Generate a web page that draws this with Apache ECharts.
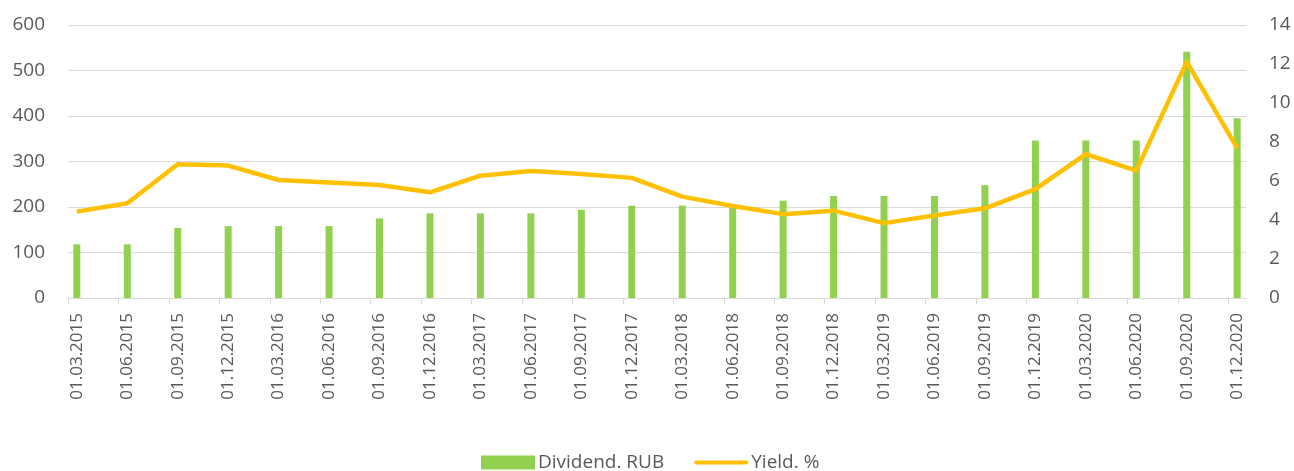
<!DOCTYPE html>
<html>
<head>
<meta charset="utf-8">
<script src="https://cdn.jsdelivr.net/npm/echarts@6/dist/echarts.min.js"></script>
<style>
html,body{margin:0;padding:0;background:#fff;}
#c{width:1294px;height:471px;}
</style>
</head>
<body>
<div id="c"></div>
<script>
const categories = ["01.03.2015","01.06.2015","01.09.2015","01.12.2015","01.03.2016","01.06.2016","01.09.2016","01.12.2016","01.03.2017","01.06.2017","01.09.2017","01.12.2017","01.03.2018","01.06.2018","01.09.2018","01.12.2018","01.03.2019","01.06.2019","01.09.2019","01.12.2019","01.03.2020","01.06.2020","01.09.2020","01.12.2020"];
const dividend = [118,118,154,158,158,158,175,186,186,186,194,203,203,199,214,224,224,224,248,346,346,346,541,395];
const yieldPct = [4.43,4.86,6.86,6.79,6.05,5.92,5.80,5.42,6.27,6.51,6.36,6.16,5.20,4.72,4.30,4.48,3.84,4.23,4.60,5.58,7.38,6.53,12.11,7.68];
const leftTicks = [0,100,200,300,400,500,600];
const rightTicks = [0,2,4,6,8,10,12,14];

const off = 0.175;
const labelPos = categories.map((_, i) => i);
const tickPos = categories.map((_, i) => i - off);
const font = '"Open Sans", "Noto Sans", sans-serif';
const txt = '#595959';
const grid = '#d9d9d9';

const chart = echarts.init(document.getElementById('c'), null, {renderer: 'canvas'});
chart.setOption({
  animation: false,
  textStyle: {fontFamily: font},
  grid: {left: 68, right: 48, top: 25, bottom: 173, containLabel: false},
  legend: {
    top: 448, left: 476, itemGap: 30, itemWidth: 54, itemHeight: 14,
    textStyle: {fontSize: 19, color: txt, fontFamily: font, padding: [0, 0, 0, -2]},
    data: [
      {name: 'Dividend. RUB', icon: 'rect'},
      {name: 'Yield. %', icon: 'path://M2,0 L54,0 A2,2 0 0 1 54,4 L2,4 A2,2 0 0 1 2,0 Z'}
    ]
  },
  xAxis: {
    type: 'value', min: -off, max: categories.length - 1 + off,
    axisLine: {show: true, lineStyle: {color: grid, width: 1}},
    splitLine: {show: false},
    axisTick: {show: true, customValues: tickPos, length: 6, lineStyle: {color: grid}},
    axisLabel: {
      customValues: labelPos, rotate: 90, margin: 15, fontSize: 17, color: txt, fontFamily: font,
      formatter: v => categories[Math.round(v)]
    }
  },
  yAxis: [
    {type: 'value', min: leftTicks[0], max: leftTicks[leftTicks.length-1], interval: 100,
     axisLine: {show: false}, axisTick: {show: false},
     splitLine: {lineStyle: {color: grid, width: 1}},
     axisLabel: {fontSize: 19, color: txt, margin: 23, fontFamily: font}},
    {type: 'value', min: rightTicks[0], max: rightTicks[rightTicks.length-1], interval: 2,
     axisLine: {show: false}, axisTick: {show: false}, splitLine: {show: false},
     axisLabel: {fontSize: 19, color: txt, margin: 23, fontFamily: font}}
  ],
  series: [
    {name: 'Dividend. RUB', type: 'bar', barWidth: 7, yAxisIndex: 0,
     itemStyle: {color: '#92D050'},
     data: dividend.map((v, i) => [i, v])},
    {name: 'Yield. %', type: 'line', yAxisIndex: 1, symbol: 'none',
     lineStyle: {color: '#FFC000', width: 4.5, join: 'round'}, itemStyle: {color: '#FFC000'},
     data: yieldPct.map((v, i) => [i, v])}
  ]
});
</script>
</body>
</html>
